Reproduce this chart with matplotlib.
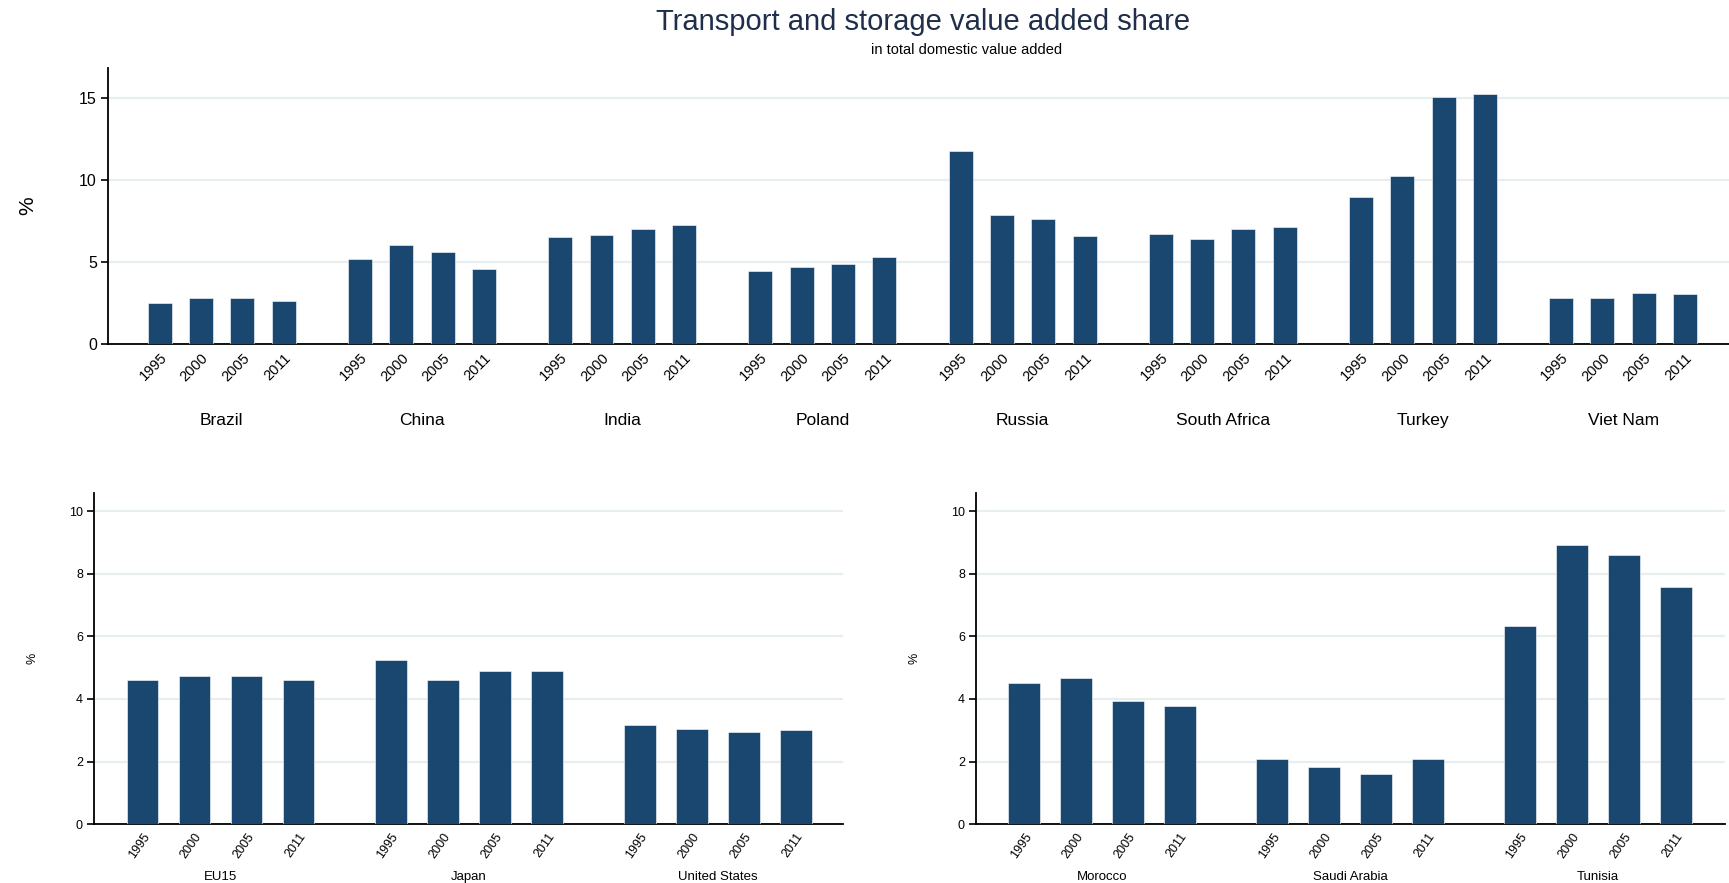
"""Transport and storage value added share, grouped bar panels."""
import matplotlib
matplotlib.use("Agg")
import matplotlib.pyplot as plt
import numpy as np

YEARS = ["1995", "2000", "2005", "2011"]

TOP_COUNTRIES = ["Brazil", "China", "India", "Poland", "Russia",
                 "South Africa", "Turkey", "Viet Nam"]
TOP_VALUES = [
    [2.48, 2.80, 2.80, 2.58],
    [5.16, 6.00, 5.57, 4.55],
    [6.50, 6.61, 7.01, 7.22],
    [4.45, 4.65, 4.86, 5.26],
    [11.75, 7.82, 7.62, 6.59],
    [6.71, 6.40, 7.01, 7.11],
    [8.96, 10.20, 15.06, 15.24],
    [2.80, 2.80, 3.11, 3.01],
]

LEFT_COUNTRIES = ["EU15", "Japan", "United States"]
LEFT_VALUES = [
    [4.62, 4.73, 4.73, 4.62],
    [5.26, 4.62, 4.89, 4.89],
    [3.16, 3.05, 2.93, 3.00],
]

RIGHT_COUNTRIES = ["Morocco", "Saudi Arabia", "Tunisia"]
RIGHT_VALUES = [
    [4.50, 4.66, 3.92, 3.76],
    [2.07, 1.81, 1.59, 2.07],
    [6.35, 8.94, 8.61, 7.59],
]

BAR_COLOR = "#1a476f"
GRID_COLOR = "#e6eef0"
TITLE_COLOR = "#1f2f4a"

plt.rcParams["font.family"] = ["Liberation Sans", "DejaVu Sans"]


def bar_panel(ax, countries, values, spacing, width, ylim, yticks,
              margins, tick_fs, year_fs, year_rot, country_fs, country_off,
              ylabel_fs, ylabel_pad):
    vals = np.array(values)
    n_groups, n_years = vals.shape
    pos = np.array([[g * spacing + j for j in range(n_years)]
                    for g in range(n_groups)])
    ax.bar(pos.ravel(), vals.ravel(), width=width, color=BAR_COLOR,
           edgecolor="white", linewidth=0.4, zorder=3)
    ax.set_xlim(-margins[0], pos.max() + margins[1])
    ax.set_ylim(*ylim)
    ax.set_yticks(yticks)
    ax.yaxis.grid(True, color=GRID_COLOR, linewidth=1.6, zorder=0)
    ax.set_axisbelow(True)
    for s in ["top", "right"]:
        ax.spines[s].set_visible(False)
    ax.spines["left"].set_linewidth(1.3)
    ax.spines["bottom"].set_linewidth(1.3)
    ax.tick_params(axis="y", length=5, width=1.2, labelsize=tick_fs, pad=3)
    ax.tick_params(axis="x", length=0, pad=5)
    ax.set_xticks(pos.ravel())
    ax.set_xticklabels(YEARS * n_groups, rotation=year_rot, ha="right",
                       rotation_mode="anchor", fontsize=year_fs, va="top")
    for g, name in enumerate(countries):
        ax.annotate(name, xy=(pos[g].mean(), 0),
                    xycoords=("data", "axes fraction"),
                    xytext=(0, -country_off), textcoords="offset points",
                    ha="center", va="center", fontsize=country_fs)
    ax.set_ylabel("%", fontsize=ylabel_fs, labelpad=ylabel_pad)


fig = plt.figure(figsize=(17.29, 8.83), dpi=100)

ax_top = fig.add_axes([0.0625, 0.6108, 0.9375, 0.3122])
bar_panel(ax_top, TOP_COUNTRIES, TOP_VALUES, spacing=4.84, width=0.58,
          ylim=(0, 16.8), yticks=[0, 5, 10, 15], margins=(1.25, 1.06),
          tick_fs=11.5, year_fs=10.5, year_rot=45, country_fs=12.5,
          country_off=55, ylabel_fs=15, ylabel_pad=30)

ax_bl = fig.add_axes([0.0544, 0.0668, 0.4332, 0.3752])
bar_panel(ax_bl, LEFT_COUNTRIES, LEFT_VALUES, spacing=4.78, width=0.61,
          ylim=(0, 10.6), yticks=[0, 2, 4, 6, 8, 10], margins=(0.93, 0.91),
          tick_fs=9, year_fs=9, year_rot=55, country_fs=9.5,
          country_off=38, ylabel_fs=9, ylabel_pad=22)

ax_br = fig.add_axes([0.5645, 0.0668, 0.4332, 0.3752])
bar_panel(ax_br, RIGHT_COUNTRIES, RIGHT_VALUES, spacing=4.78, width=0.61,
          ylim=(0, 10.6), yticks=[0, 2, 4, 6, 8, 10], margins=(0.93, 0.95),
          tick_fs=9, year_fs=9, year_rot=55, country_fs=9.5,
          country_off=38, ylabel_fs=9, ylabel_pad=22)

fig.text(0.534, 0.975, "Transport and storage value added share",
         ha="center", va="center", fontsize=21, color=TITLE_COLOR)
fig.text(0.559, 0.943, "in total domestic value added",
         ha="center", va="center", fontsize=10.5, color="black")

fig.savefig("out.png", dpi=100)
